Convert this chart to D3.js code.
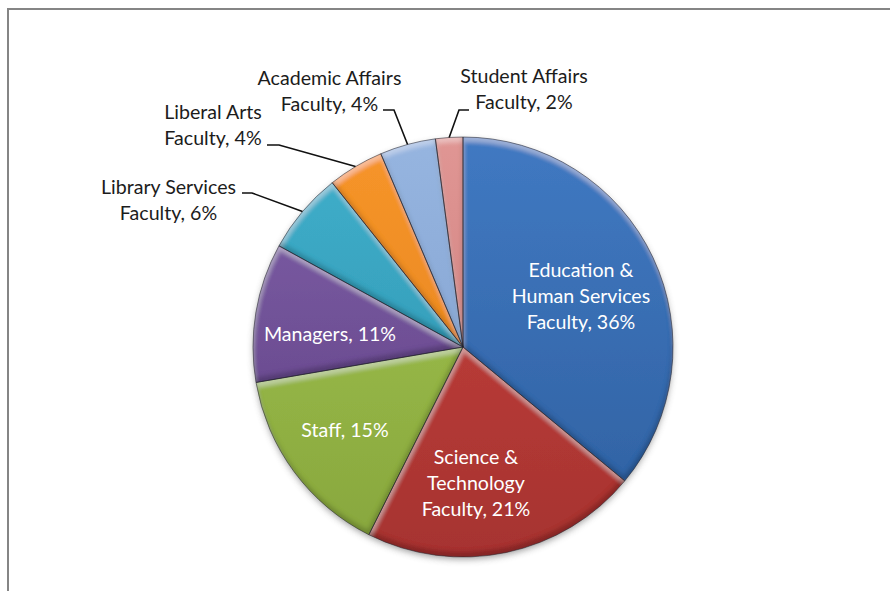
<!DOCTYPE html>
<html>
<head>
<meta charset="utf-8">
<script src="https://cdn.jsdelivr.net/npm/d3@7"></script>
<style>
  html, body { margin: 0; padding: 0; background: #fff; overflow: hidden; }
  text { font-family: Lato, "Noto Sans", sans-serif; font-size: 19.6px; }
</style>
</head>
<body>
<div id="chart"></div>
<script>
// Slices run clockwise from 12 o'clock. Shares are read from the slice angles,
// the labels show them rounded.
const categories = [
    ['Education &', 'Human Services', 'Faculty'],
    ['Science &', 'Technology', 'Faculty'],
    ['Staff'],
    ['Managers'],
    ['Library Services', 'Faculty'],
    ['Liberal Arts', 'Faculty'],
    ['Academic Affairs', 'Faculty'],
    ['Student Affairs', 'Faculty']
];
const shares = [36, 21.4, 14.9, 10.7, 6.3, 4.3, 4.3, 2.1];
const percentLabels = [36, 21, 15, 11, 6, 4, 4, 2];

const width = 890;
const height = 591;
const radius = 210;
const cx = 463;
const cy = 347;

const topColors = ['#4079c2', '#c9423e', '#a4c64e', '#8060aa', '#3fb0cc', '#f7952a', '#96b5e0', '#e09694'];
const bottomColors = ['#2f5f9f', '#a63330', '#87a63e', '#5d3f80', '#2f8fab', '#e0801c', '#7d9ccb', '#c87876'];

// text centre and first baseline; line = elbow start x, elbow end x, elbow y
const labelPlace = [
    { x: 581, y: 277 },
    { x: 476, y: 464 },
    { x: 345, y: 437 },
    { x: 330, y: 341 },
    { x: 168.5, y: 194, line: [242, 252, 193] },
    { x: 213, y: 119, line: [267, 279, 145] },
    { x: 329.5, y: 85, line: [383, 394, 110] },
    { x: 524, y: 83, line: [469, 459, 110] }
];

const svg = d3.select('#chart').append('svg')
    .attr('width', width)
    .attr('height', height)
    .style('display', 'block');

// frame, only top and left edges are visible in the crop
svg.append('path')
    .attr('d', d3.line()([[8, height], [8, 9], [width, 9]]))
    .attr('fill', 'none')
    .attr('stroke', '#858585')
    .attr('stroke-width', 2);

const defs = svg.append('defs');

const pie = d3.pie().sort(null).value(d => d);
const arc = d3.arc().innerRadius(0).outerRadius(radius);
const arcs = pie(shares);

topColors.forEach((c, i) => {
    const grad = defs.append('linearGradient')
        .attr('id', 'slice' + i)
        .attr('gradientUnits', 'userSpaceOnUse')
        .attr('x1', 0).attr('x2', 0)
        .attr('y1', -radius).attr('y2', radius);
    grad.append('stop').attr('offset', '0%').attr('stop-color', c);
    grad.append('stop').attr('offset', '100%').attr('stop-color', bottomColors[i]);
});

// bevel: light inner edge on the upper side, dark inner edge on the lower side
const bevel = defs.append('filter')
    .attr('id', 'bevel')
    .attr('x', '-10%').attr('y', '-10%')
    .attr('width', '120%').attr('height', '120%');
bevel.append('feGaussianBlur')
    .attr('in', 'SourceAlpha').attr('stdDeviation', 2).attr('result', 'blur');
bevel.append('feOffset')
    .attr('in', 'blur').attr('dx', 1).attr('dy', 5).attr('result', 'downAlpha');
bevel.append('feOffset')
    .attr('in', 'blur').attr('dx', -1).attr('dy', -5).attr('result', 'upAlpha');
bevel.append('feFlood')
    .attr('flood-color', '#fff').attr('flood-opacity', 0.3).attr('result', 'white');
bevel.append('feFlood')
    .attr('flood-color', '#000').attr('flood-opacity', 0.38).attr('result', 'black');
bevel.append('feComposite')
    .attr('in', 'white').attr('in2', 'downAlpha').attr('operator', 'out').attr('result', 'lightOut');
bevel.append('feComposite')
    .attr('in', 'lightOut').attr('in2', 'SourceAlpha').attr('operator', 'in').attr('result', 'light');
bevel.append('feComposite')
    .attr('in', 'black').attr('in2', 'upAlpha').attr('operator', 'out').attr('result', 'darkOut');
bevel.append('feComposite')
    .attr('in', 'darkOut').attr('in2', 'SourceAlpha').attr('operator', 'in').attr('result', 'dark');
const merge = bevel.append('feMerge');
merge.append('feMergeNode').attr('in', 'SourceGraphic');
merge.append('feMergeNode').attr('in', 'light');
merge.append('feMergeNode').attr('in', 'dark');

const shadow = defs.append('filter')
    .attr('id', 'shadow')
    .attr('x', '-10%').attr('y', '-10%')
    .attr('width', '120%').attr('height', '120%');
shadow.append('feGaussianBlur').attr('stdDeviation', 3.5);

const g = svg.append('g').attr('transform', `translate(${cx},${cy})`);

g.append('circle')
    .attr('r', radius - 1)
    .attr('cy', 3)
    .attr('fill', '#555')
    .attr('opacity', 0.6)
    .attr('filter', 'url(#shadow)');

// dark disc so no white shows through between the slices
g.append('circle')
    .attr('r', radius - 1)
    .attr('fill', '#3a3a44');

g.selectAll('path.slice')
    .data(arcs)
    .enter().append('path')
    .attr('class', 'slice')
    .attr('d', arc)
    .attr('fill', (d, i) => `url(#slice${i})`)
    .attr('filter', 'url(#bevel)');

// thin dark seams between slices and along the rim
g.selectAll('path.seam')
    .data(arcs)
    .enter().append('path')
    .attr('class', 'seam')
    .attr('d', arc)
    .attr('fill', 'none')
    .attr('stroke', 'rgba(35,35,45,0.6)')
    .attr('stroke-width', 0.9);

// leader lines, elbow then straight to the middle of the slice's rim
const rimPoint = d => {
    const a = (d.startAngle + d.endAngle) / 2;
    return [cx + radius * Math.sin(a), cy - radius * Math.cos(a)];
};
arcs.forEach((d, i) => {
    const place = labelPlace[i];
    if (!place.line) return;
    const [x0, x1, y] = place.line;
    svg.append('path')
        .attr('d', d3.line()([[x0, y], [x1, y], rimPoint(d)]))
        .attr('fill', 'none')
        .attr('stroke', '#111')
        .attr('stroke-width', 1.6);
});

// labels
const lineHeight = 26;
categories.forEach((name, i) => {
    const place = labelPlace[i];
    const rows = name.slice();
    rows[rows.length - 1] += ', ' + percentLabels[i] + '%';
    const text = svg.append('text')
        .attr('text-anchor', 'middle')
        .attr('fill', i < 4 ? '#fff' : '#1c1c1c');
    rows.forEach((row, k) => {
        text.append('tspan')
            .attr('x', place.x)
            .attr('y', place.y + k * lineHeight)
            .text(row);
    });
});
</script>
</body>
</html>
